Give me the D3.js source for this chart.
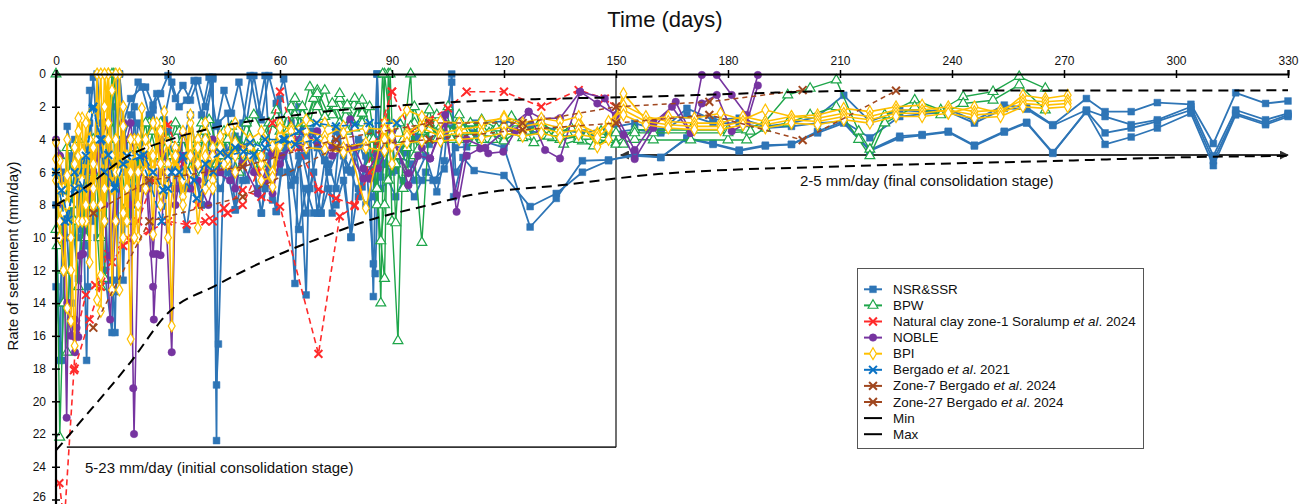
<!DOCTYPE html>
<html><head><meta charset="utf-8">
<script src="https://cdn.jsdelivr.net/npm/d3@7"></script>
<style>body{margin:0;background:#fff;} svg{display:block;font-family:Arial,"Liberation Sans",sans-serif;}</style>
</head><body>
<svg id="c" width="1309" height="504"></svg>
<script>
// ---------- data ----------
const xTicks=[0,30,60,90,120,150,180,210,240,270,300,330];
const yTicks=[0,2,4,6,8,10,12,14,16,18,20,22,24,26];
const titleX="Time (days)";
const titleY="Rate of settlement (mm/day)";
const noteInitial="5-23 mm/day (initial consolidation stage)";
const noteFinal="2-5 mm/day (final consolidation stage)";

const nsrA=[[0,13],[1.5,17.5],[3,3.2],[5,6],[7,9.5],[9,3],[10,0.2],[12,7],[13,12],[15,15.8],[16,0],[18,4],[20,2.5],[22,0.5],[24,0.8],[26,1.9],[28,1.2],[30,0.1],[32,1.5],[34,0.7],[36,1.6],[38,0.4],[40,2],[42,0.2],[43,22.4],[43.4,3],[46,2.4],[48,8.3],[50,3],[52,0.1],[54,2.5],[56,0.1],[58,7.7],[60,1.5],[62,6],[64,12.8],[65,4],[67,13.5],[68,3.5],[70,8.5],[72,5.3],[74,8.5],[76,3.6],[79,10],[80,4.5],[82,6.9],[84,3.5],[85,13.6],[86,0],[87,6.3],[88,5.5],[90,4],[91,5.9],[94,4.8],[96,6.5],[99,5],[102,7.2],[104,5.3],[106,0],[106.5,7.5],[109,5.1],[112,5.9],[120,6.2],[127,8.1],[134,7.3],[141,6.0],[148,5.3],[155,4.9],[162,5.1],[169,3.9],[176,4.25],[183,4.65],[190,4.35],[197,4.3],[204,3.5],[211,2.9],[218,4.65],[226,3.8],[232,3.7],[239,3.5],[246,4.35],[254,3.5],[260,2.95],[267,4.8],[276,2.3],[281,4.3],[288,3.85],[295,3.3],[304,2.4],[310,5.6],[316,2.5],[324,3.1],[330,2.6]];
const nsrB=[[1,14],[2,10],[4,8],[6,12.5],[8,4.5],[10,9],[11,0],[13,6],[14,12.6],[15,2],[17,0],[19,5],[20,8.5],[22,3],[24,4.5],[26,2.2],[28,5],[30,3.5],[32,6],[34,4],[36,2.5],[38,5.5],[40,3],[42,0.3],[43,19],[43.5,16.5],[45,5],[48,3.8],[50,5.5],[52,4.5],[55,8.5],[57,5],[59,8.4],[61,4.5],[63,6.8],[65,5],[67,8.5],[69,6],[71,8.5],[73,5.5],[75,7],[77,5],[79,5.9],[81,7.5],[83,5],[85,11.6],[85.5,12.2],[86.5,5],[88,5.5],[90,6],[92,5],[95,5.5],[98,6.5],[101,6.5],[104,5.8],[107,4.5],[110,4.45],[113,4.0],[120,4.5],[127,9.35],[134,7.6],[141,5.3],[148,5.25],[155,5.0],[162,5.1],[169,3.95],[176,4.3],[183,4.7],[190,4.4],[197,4.3],[204,3.6],[211,3.0],[218,4.7],[226,3.9],[232,3.75],[239,3.55],[246,4.4],[254,3.55],[260,3.0],[267,4.85],[276,2.25],[281,3.6],[288,3.3],[295,2.9],[304,2.2],[310,5.3],[316,2.4],[324,3.0],[330,2.5]];
const nsrC=[[18,3],[20,1.5],[23,0.8],[25,2.5],[27,1.2],[29,2.8],[31,0.5],[33,2],[35,1.6],[37,0.4],[39,2.5],[41,0.2],[43,3.2],[45,1],[47,2.4],[49,0.5],[51,3],[53,0.1],[55,2.8],[57,0.1],[59,1.8],[61,0.3],[63,3],[65,2],[67,5],[69,3.5],[72,5.26],[75,3.5],[78,5.87],[81,4],[84,6.3],[86,4],[88,5.46],[91,5.87],[94,4.5],[97,3.8],[100,4],[103,3.5],[106,3.3],[110,3.2],[112,3.0],[120,2.9],[127,3.1],[134,3.4],[141,3.6],[148,3.3],[155,3.0],[162,3.5],[169,2.1],[176,2.8],[183,2.7],[190,3.2],[197,3.0],[204,2.6],[211,1.3],[218,2.9],[226,2.2],[232,2.3],[239,2.15],[246,2.85],[254,1.9],[260,2.05],[267,3.1],[276,1.5],[281,2.3],[288,2.3],[295,1.75],[304,1.85],[310,4.25],[316,1.15],[324,1.8],[330,1.65]];
const nsrD=[[2,9],[4,5],[6,7],[8,10.5],[10,5],[12,8],[14,3],[16,9],[17,0],[19,6],[21,8],[23,4],[25,7],[27,5],[29,3],[31,6],[33,4.5],[35,7],[37,5],[39,8],[41,4],[43,6],[45,4.5],[47,6.5],[49,4],[51,6.5],[53,5],[56,7],[58,4.5],[60,6],[62,4],[64,6.5],[66,5],[68,7],[70,4.5],[73,6],[76,4.5],[79,6],[82,4.2],[84,5.4],[86,4.2],[88,4.8],[90,4.3],[93,4.6],[96,4],[100,4.3],[104,3.9],[108,4],[112,3.6],[120,3.4],[127,3.5],[134,3.7],[141,3.9],[148,3.6],[155,3.4],[162,3.6],[169,2.5],[176,3.0],[183,3.0],[190,3.3],[197,3.2],[204,3.0],[211,2.9],[218,3.9],[226,2.6],[232,2.45],[239,2.3],[246,3.0],[254,2.1],[260,2.15],[267,3.15],[276,2.2],[281,2.6],[288,3.1],[295,2.8],[304,2.0],[310,5.0],[316,2.2],[324,2.8],[330,2.4]];
const nsrE=[[30,5],[33,7],[35,9.5],[37,6],[39,8],[41,5.5],[44,7],[46,6],[48,8.3],[50,6.5],[52,4],[54,7],[55,8.5],[57,6],[59,8.4],[61,5],[63,6],[65,9.5],[67,7],[69,8.5],[71,8.5],[73,7],[75,8],[77,6.5],[79,9.95],[81,7],[83,8],[85,7.5],[86,0],[87,7],[89,6.5],[91,7.5],[93,6.5],[96,7.5],[99,6],[102,6.5],[106,0.5],[107,6],[110,5]];
const nsrF=[[0,8],[1,17.5],[2,6],[3,10],[4,14],[5,4],[6,10],[7,5],[8.2,17.5],[8.5,13],[9,1],[10,6],[11,10],[12,3],[13,9],[14,6],[15.8,15.8],[16,13.3],[16.3,12.6],[17,4],[18,12.6],[19,4],[20,9],[21,2],[22,7],[23,4],[25,6]];

const bpwA=[[0,0],[0.3,10.5],[1,22.2],[2,14],[3,4.5],[4,6],[5,9],[6,13],[8,7],[10,4],[12,10],[14,3],[15.5,0],[17,5],[19,8],[21,4.5],[23,6],[25,3],[27,5],[30,4],[33,3.5],[36,5],[39,3],[42,4.5],[45,3.5],[48,5],[51,3],[54,4.5],[57,3],[60,3.5],[63,2],[66,3.5],[69,1.5],[72,3],[75,2],[78,3.5],[81,2],[84,4],[86,8],[88,12.5],[89,0],[90,9],[91.6,16.3],[93,4],[95,0],[96,5],[98,10.3],[100,3],[103,4],[105,2],[108,4],[111,3],[114,4],[117,3.5],[120,4],[123,3],[126,3.8],[130,3.5],[135,4],[140,3.8],[145,4],[150,4.2],[155,3.4],[160,3.42],[170,3.42],[180,3.42],[185,3.42],[190,2.9],[196,1.28],[202,0.88],[209,0.37],[215,3.5],[218,4.6],[222,2.5],[230,1.59],[237,2.2],[243,1.39],[251,1.08],[258,0.16],[265,0.88]];
const bpwB=[[0,9.5],[1,5],[2,12],[3,17],[4,8],[6,4],[8,10],[10,6],[12,13],[13,12.5],[14,4],[15,0],[16,7],[18,3],[20,9],[22,5],[24,3],[26,6.5],[28,3],[31,5],[34,4],[37,6],[40,3.5],[43,5.5],[46,4],[49,6],[52,4.5],[55,5.5],[58,3],[61,4],[64,2.5],[67,3],[70,1],[73,2.5],[76,1.5],[79,2.8],[82,1.6],[85,4],[87,10.2],[88,8],[89.5,0],[91,9.1],[92,5],[94,6],[96,3],[99,4],[102,2.5],[105,3.5],[108,2.8],[111,3.8],[114,3],[117,4],[121,3.5],[125,3.9],[129,3.2],[133,3.9],[137,3.6],[141,4.1],[146,3.7],[150,4.3],[155,4.0],[160,4.03],[170,4.03],[180,4.03],[185,4.03],[190,3.3],[196,3.0],[202,2.5],[209,2.0],[215,4.0],[218,5.0],[222,3.0],[230,2.0],[237,2.5],[243,1.8],[251,1.6],[258,0.67],[265,2.2]];
const bpwC=[[20,4],[23,6],[26,3.5],[29,5.5],[32,3],[35,6],[38,4],[41,2.8],[44,5],[47,3.2],[50,4.5],[53,2.5],[56,3.8],[59,2.2],[62,3.5],[64,1.5],[66,2.5],[68,0.8],[70,2],[72,1],[74,2.5],[76,1.2],[78,2.2],[80,1.5],[82,3],[84,2],[86,5],[87,14],[88,0],[90,4],[92,3],[94,4.5],[96,2],[98,3.5],[100,2.2],[102,4],[104,2.7],[106,3.6],[108,2.5],[110,3.5],[114,2.8],[118,3.3],[122,2.6],[126,3.5],[130,3.0],[134,3.6],[138,3.3],[142,3.8],[146,3.5],[150,3.6],[155,3.6],[160,3.6],[180,3.6],[186,3.5]];
const bpwD=[[60,4],[62,2.5],[64,3.5],[66,2],[68,3],[70,1.2],[72,2.6],[74,1.8],[76,3],[78,1.9],[80,3.3],[82,2.4],[84,5.5],[86,7],[87.5,0],[89,6.5],[91,5.5],[93,7],[95,3.2],[97,4.6],[100,3.4],[103,3.2],[106,4],[109,3.4],[112,4.2],[116,3.6],[120,4.1],[124,3.4],[128,4.2],[132,3.8],[136,4.3],[140,4.0],[144,4.4],[148,4.0],[152,4.3]];

const clayA=[[0.9,25],[2.2,27.5],[4.8,18.1],[5.3,16],[8,13.5],[10.5,12.9],[14,11],[19.8,10.15],[25,9.6],[30,9.0],[35,9.2],[40,9.0],[45,8.2],[50,7.1],[55,7.5],[60,8.1],[70.3,17.1],[76,8.7],[80,8.07],[90,1.08],[95,3.5],[100,2.8],[105,2.1],[110,1.08],[120,1.08],[130,2.0],[140,0.98],[147,1.5],[150,2.0]];
const clayB=[[5,18],[9,15],[12,13],[15,11.5],[18,10.5],[22,9],[26,6.5],[30,3.1],[34,5.5],[38,8],[42,9.0],[46,8.5],[50,8.0],[54,6],[58,3],[60,1.08],[65,4.5],[70.3,7.05],[75,7.6],[80,8.0],[84,6],[88,3],[90,1.08]];

const nobA=[[0,4],[1,5],[2,9],[2.85,21],[3.3,14],[4,15],[5.1,17],[5.5,15.5],[6.4,11.1],[7.3,11],[8,9],[10,6],[12,4],[14,2.9],[14.5,11.1],[16,6],[18,3],[20,8],[20.7,19.2],[20.9,22],[22,10],[24,6],[26,13],[26.2,15],[27,11],[28,11.07],[29,6],[31,17],[32,7],[34,3.6],[36,5],[38,6.5],[40.8,8.0],[43,6],[46.6,6.5],[50,5.5],[54,7.3],[57.8,4.85],[60,5.5],[63.6,4.14],[66,4.5],[70,3.5],[74,4.5],[78.8,2.77],[80,4.5],[82.3,5.77],[84,6.4],[86.3,5.77],[90,4],[94.4,6.07],[97,5],[100.2,5.16],[104.2,2.5],[107.3,8.42],[110,5],[113.6,4.55],[115.8,4.85],[119.8,4.75],[123,3.5],[126.6,2.3],[131,4.65],[135,5.16],[140.4,1.08],[147,1.49],[152,3.73],[155,5.2],[160,3.3],[166,1.7],[170,3.6],[173,0.06],[177,0.06],[181,1.28],[185,2.5],[188,0.06]];
const nobB=[[1,5],[2,8],[3,14],[4,16],[5,15],[6,16.07],[7,11],[9,7],[11,5],[13,8],[14.5,15],[16,9],[18,5],[20,3],[22,7],[24,5],[26,11],[28,4],[30,6],[32,8],[34,5],[36,7],[38,5.5],[40,6],[42,4],[44,6],[46,5],[48,7],[50,4.5],[53,6],[56,6.5],[58,7.3],[60,5],[63,4.5],[66,3.5],[70,4.2],[74,5],[78,4.5],[82.3,6.4],[86,5],[90,3.5],[94.4,6.8],[98,4.5],[100.2,5.16],[104,3],[107.3,7.4],[110,4],[115,4.5],[120,3.5],[126.6,2.3],[130,2.7],[135,2.7],[140.4,1.08],[145,1.8],[150,2.5],[155,4.65],[160,3.0],[165,2.0],[170,3.6],[173,1.8],[177,1.28],[181,3.5],[185,3.0],[188,0.7]];

const bpiA=[[0,4.2],[0.5,6],[1,5.3],[2,7.5],[3,6.2],[4,10],[5,16.6],[6,5],[7,2.7],[8,9],[9,4],[10,8],[11,0],[12,12.3],[13,2],[14,0],[15,13.2],[16,6],[17,0],[18,10],[19,5],[20,16.2],[21,4],[22,8],[23,2.1],[24,6],[25,4.5],[26,9.8],[27,3],[28,7],[29,2.3],[30,5.5],[31,15.4],[32,4.5],[34,7.5],[36,3],[38,9.4],[40,5],[42,6.5],[44,4],[46,3.4],[48,5],[50,4.8],[52,4],[55,5.5],[58,6.9],[60,3.8],[63,3.3],[67,3.5],[72,3.8],[77,3.2],[83,8.2],[88,3.0],[90,5.5],[94,3.6],[98,3.0],[103,3.6],[108,3.4],[114,3.2],[120,2.6],[125,3.0],[130,2.7],[135,2.9],[140,2.6],[145,4.45],[148,4.0],[152,1.2],[158,2.8],[164,2.6],[171,2.7],[178,2.4],[184,2.8],[190,2.2],[197,2.6],[204,2.5],[211,2.1],[218,2.3],[225,2.0],[232,1.9],[239,2.4],[246,2.0],[253,2.4],[259,1.3],[265,1.5],[271,1.3]];
const bpiB=[[0,6],[1,10],[2,7],[3,14.3],[4,15.1],[5,5.5],[6,9],[7,6.5],[8,3],[9,11.5],[10,4.5],[11,13.8],[12,14.5],[13,7],[14,0],[15,5],[16,9],[17,13.2],[18,2],[19,7],[20,4],[22,10],[24,4.5],[26,6],[28,3.5],[30,10],[32,5],[34,6.5],[36,2.5],[38,5.5],[40,4],[42,7],[44,4.5],[46,5.5],[48,4.2],[52,4.5],[55,5],[58,6],[60,3],[63,3.5],[67,2.8],[72,3],[77,3.6],[83,3.3],[88,3.4],[90,3.2],[94,2.2],[98,2.6],[103,2.9],[108,3.0],[114,2.9],[120,2.7],[125,3.2],[130,3.0],[135,3.3],[140,3.1],[145,3.6],[148,3.0],[152,1.9],[158,2.6],[164,2.9],[171,3.0],[178,3.0],[184,2.6],[190,2.9],[197,2.6],[204,2.7],[211,2.4],[218,2.6],[225,2.2],[232,2.2],[239,2.0],[246,2.3],[253,2.2],[259,1.6],[265,1.7],[271,1.6]];
const bpiC=[[0,5.2],[1,7],[2,8.5],[3,4],[4,12],[5,7],[6,3.5],[7,9],[8,5],[9,2.5],[10,7],[11,4],[12,0],[13,9],[14,4],[15,1],[16,0],[17,6],[18,3.2],[19,9],[20,5],[21,10],[22,6],[24,4],[26,3],[28,5.5],[30,4.2],[32,6],[34,3.5],[36,5],[38,4],[40,3],[42,4.5],[44,3.8],[46,5.2],[48,3],[52,4],[55,3.5],[58,4.4],[60,3.3],[63,4.4],[67,4.0],[72,4.1],[77,4.5],[83,4.2],[88,4.0],[90,3.8],[94,3.8],[98,3.3],[103,3.8],[108,3.6],[114,3.6],[120,3.2],[125,3.5],[130,3.3],[135,3.6],[140,3.4],[145,3.7],[148,2.9],[152,2.2],[158,2.9],[164,3.1],[171,3.2],[178,3.2],[184,2.9],[190,3.1],[197,2.8],[204,2.9],[211,2.6],[218,2.8],[225,2.4],[232,2.4],[239,2.2],[246,2.5],[253,2.4],[259,1.8],[265,1.9],[271,1.8]];
const bpiD=[[0,6.5],[1,9],[2,12],[3,8],[5,4.5],[6,2.7],[7,4.8],[8,8],[10,5.5],[12,8],[13,0],[14,3],[15,7],[16,4],[18,8.5],[20,6],[22,4],[24,7],[26,5],[28,8],[30,6],[32,5],[34,8],[36,6],[38,4.5],[40,7],[42,5],[45,5.5],[48,6],[52,5],[55,6.5],[58,6.3],[60,4.4],[63,4.0],[67,4.5],[72,4.6],[77,4.8],[83,4.5],[88,4.7],[90,4.4],[94,4.2],[98,4.1],[103,4.1],[108,4.0],[114,3.9],[120,3.6],[125,3.8],[130,3.6],[135,3.9],[140,3.7],[145,3.9],[148,3.3],[152,2.5],[158,3.1],[164,3.3],[171,3.4],[178,3.4],[184,3.1],[190,3.3],[197,3.0],[204,3.1],[211,2.8],[218,3.0],[225,2.6],[232,2.6],[239,2.4],[246,2.7],[253,2.6],[259,2.0],[265,2.1],[271,2.0]];

const berg21A=[[1.5,7.1],[3.3,8.9],[5,6],[7.3,7.0],[9.8,2.1],[12.2,4.0],[14,4.95],[15.8,7.0],[18,5.5],[22.5,5.05],[25,6.5],[28.3,9.0],[30,7],[33,6],[37.7,7.6],[42.1,5.97],[46,5],[50.2,4.75],[52.9,4.95],[56,4.0],[61.3,4.0],[65,3.5],[69.8,3.0],[75,3.2],[80,3.1],[84,3.0],[91.3,3.0]];
const berg21B=[[0,6],[2.4,9.0],[5,7],[8,5],[10,2],[11.8,4.0],[13,6],[15.8,6.9],[19,5],[23.4,4.95],[26,6],[28.7,7.1],[31,6],[34,5],[37,6.5],[40,5.5],[44,4.8],[48,4.5],[52,4.2],[56,4.5],[60.9,4.0],[64,4.3],[69.8,4.0]];
const zone7=[[10,8.5],[25,6.5],[50,5.67],[75,4.0],[100,3.0],[125,3.0],[150,2.0],[175,1.7],[200,0.98]];
const zone27=[[10,15.5],[25,9.0],[50,7.5],[75,4.5],[100,4.0],[125,3.4],[150,3.0],[175,2.5],[200,4.04],[225,1.02]];
const minCurve=[[0,8],[8,6.9],[19,5.05],[30,4.05],[44,3.2],[60,2.65],[70,2.35],[90,1.95],[108,1.7],[135,1.5],[156,1.4],[192,1.14],[218,1.02],[330,1.0]];
const maxCurve=[[0,23],[6,21.4],[20,17.6],[30,14.6],[43,12.9],[60,11.0],[71,10.0],[83,9.0],[100,8.0],[111,7.4],[135,6.8],[162,6.1],[210,5.65],[270,5.3],[300,5.1],[330,5.0]];
const initialBox={fromDay:2.9,toDay:150,rate:22.8};
const finalBand={fromDay:151.3,toDay:330,rate:4.95};

const legendLabels=[["NSR&SSR"],["BPW"],["Natural clay zone-1 Soralump ","et al",". 2024"],["NOBLE"],["BPI"],["Bergado ","et al",". 2021"],["Zone-7 Bergado ","et al",". 2024"],["Zone-27 Bergado ","et al",". 2024"],["Min"],["Max"]];

const series=[
 {color:"#2E75B6",marker:"square",dash:null,width:1.8,lines:[nsrA,nsrB,nsrC,nsrD,nsrE,nsrF]},
 {color:"#1EA64A",marker:"triangle",dash:null,width:1.4,lines:[bpwA,bpwB,bpwC,bpwD]},
 {color:"#FF2A2A",marker:"times",dash:"6,4",width:1.6,lines:[clayA,clayB]},
 {color:"#7634A0",marker:"circle",dash:null,width:1.6,lines:[nobA,nobB]},
 {color:"#FFC000",marker:"diamond",dash:null,width:1.6,lines:[bpiA,bpiB,bpiC,bpiD]},
 {color:"#0A72C4",marker:"times",dash:"7,4",width:1.6,lines:[berg21A,berg21B]},
 {color:"#A0471F",marker:"times",dash:"5,4",width:1.5,lines:[zone7]},
 {color:"#A0471F",marker:"times",dash:"5,4",width:1.5,lines:[zone27]},
 {color:"#000",marker:null,dash:"10,6",width:2,lines:[minCurve],curve:true},
 {color:"#000",marker:null,dash:"10,6",width:2,lines:[maxCurve],curve:true}
];

// ---------- drawing ----------
const svg=d3.select("#c");
const x=d3.scaleLinear().domain([0,330]).range([56,1288]);
const y=d3.scaleLinear().domain([0,26]).range([74,499.5]);

svg.append("text").attr("x",665).attr("y",27).attr("text-anchor","middle").attr("font-size",22).attr("fill","#111").text(titleX);
svg.append("text").attr("transform","translate(18,256) rotate(-90)").attr("text-anchor","middle").attr("font-size",15).attr("fill","#111").text(titleY);

const defs=svg.append("defs");
defs.append("marker").attr("id","arr").attr("viewBox","0 0 10 10").attr("refX",9).attr("refY",5)
 .attr("markerWidth",5).attr("markerHeight",5).attr("orient","auto-start-reverse")
 .append("path").attr("d","M0,0L10,5L0,10z").attr("fill","#333");

// reference frames
svg.append("line").attr("x1",x(initialBox.fromDay)).attr("x2",x(initialBox.toDay)).attr("y1",y(initialBox.rate)).attr("y2",y(initialBox.rate)).attr("stroke","#333").attr("stroke-width",1.6);
svg.append("line").attr("x1",x(initialBox.toDay)).attr("x2",x(initialBox.toDay)).attr("y1",y(0)).attr("y2",y(initialBox.rate)).attr("stroke","#111").attr("stroke-width",1.2);
svg.append("line").attr("x1",x(finalBand.fromDay)).attr("x2",x(finalBand.toDay)).attr("y1",y(finalBand.rate)).attr("y2",y(finalBand.rate)).attr("stroke","#333").attr("stroke-width",1.8).attr("marker-start","url(#arr)").attr("marker-end","url(#arr)");

svg.append("text").attr("x",85).attr("y",473).attr("font-size",15).attr("fill","#111").text(noteInitial);
svg.append("text").attr("x",800).attr("y",186).attr("font-size",15).attr("fill","#111").text(noteFinal);

function markerPath(type,size){
  const m={square:d3.symbolSquare,triangle:d3.symbolTriangle,times:d3.symbolTimes,circle:d3.symbolCircle,diamond:d3.symbolDiamond}[type];
  return d3.symbol(m,size)();
}
const msize={square:46,triangle:42,times:42,circle:44,diamond:40};
function drawMarkers(g,pts,s){
  if(!s.marker) return;
  const p=markerPath(s.marker,msize[s.marker]);
  const filled=(s.marker==="square"||s.marker==="circle");
  const stroked=(s.marker==="times");
  g.selectAll(null).data(pts).join("path")
   .attr("d",p).attr("transform",d=>`translate(${x(d[0])},${y(d[1])})`)
   .attr("fill",filled?s.color:(stroked?"none":"#fff"))
   .attr("stroke",s.color).attr("stroke-width",stroked?2:(filled?0.5:1.2));
}
const plot=svg.append("g");
series.forEach(s=>{
  const g=plot.append("g");
  const gen=d3.line().x(d=>x(d[0])).y(d=>y(d[1]));
  if(s.curve) gen.curve(d3.curveMonotoneX);
  s.lines.forEach(l=>{
    g.append("path").attr("d",gen(l)).attr("fill","none").attr("stroke",s.color).attr("stroke-width",s.width)
     .attr("stroke-dasharray",s.dash).attr("stroke-linejoin","round");
  });
  s.lines.forEach(l=>drawMarkers(g,l,s));
});

// axes
const xa=svg.append("g").attr("transform",`translate(0,${y(0)})`).call(d3.axisTop(x).tickValues(xTicks).tickSize(4).tickFormat(d3.format("d")));
xa.select(".domain").attr("stroke","#000").attr("stroke-width",2.2);
xa.selectAll(".tick line").attr("y1",-4).attr("y2",4).attr("stroke","#000").attr("stroke-width",1.5);
xa.selectAll(".tick text").attr("y",-9).attr("font-size",12).attr("font-family","Arial,'Liberation Sans',sans-serif").attr("fill","#111");
const ya=svg.append("g").attr("transform",`translate(${x(0)},0)`).call(d3.axisLeft(y).tickValues(yTicks).tickSize(4).tickFormat(d3.format("d")));
ya.select(".domain").attr("d",`M0,${y(0)}V504`).attr("stroke","#000").attr("stroke-width",2.2);
ya.selectAll(".tick line").attr("x1",-4).attr("x2",4).attr("stroke","#000").attr("stroke-width",1.5);
ya.selectAll(".tick text").attr("x",-10).attr("font-size",12).attr("font-family","Arial,'Liberation Sans',sans-serif").attr("fill","#111")
  .attr("dy",d=>d===26?"0.05em":"0.32em");

// legend
const lg=svg.append("g");
lg.append("rect").attr("x",857.5).attr("y",268.5).attr("width",286).attr("height",180).attr("fill","#fff").attr("stroke","#555").attr("stroke-width",1);
legendLabels.forEach((lab,i)=>{
  const s=series[i];
  const yy=289.3+i*16.1;
  lg.append("line").attr("x1",864).attr("x2",882).attr("y1",yy).attr("y2",yy).attr("stroke",s.color).attr("stroke-width",2);
  if(s.marker) drawMarkers(lg.append("g").attr("transform",`translate(${873-x(0)},${yy-y(0)})`),[[0,0]],s);
  const t=lg.append("text").attr("x",893).attr("y",yy+4.5).attr("font-size",13.4).attr("fill","#111");
  lab.forEach((seg,k)=>t.append("tspan").attr("font-style",k%2===1?"italic":"normal").text(seg));
});
</script>
</body></html>
